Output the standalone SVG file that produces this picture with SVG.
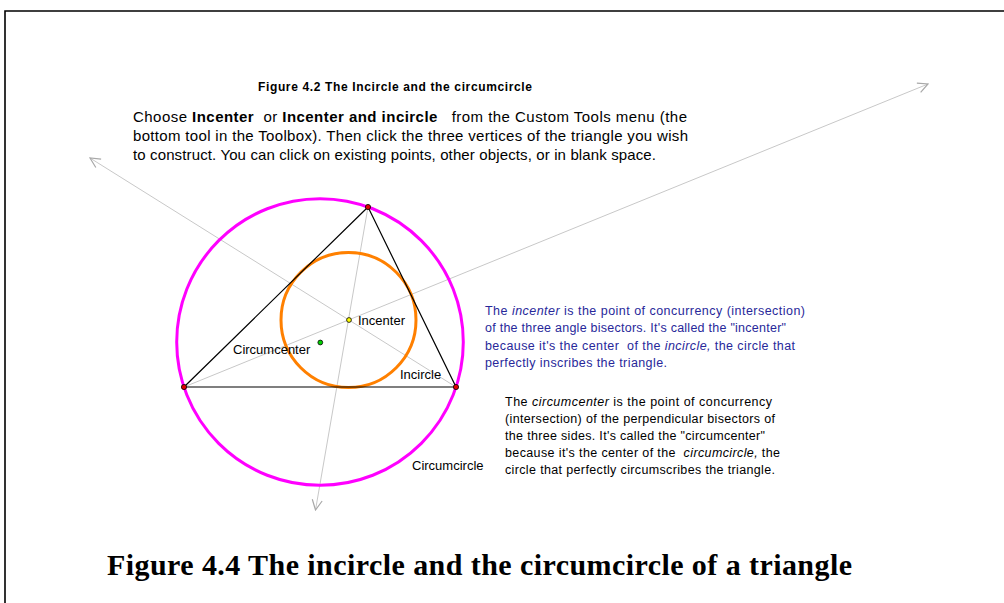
<svg xmlns="http://www.w3.org/2000/svg" width="1004" height="603" viewBox="0 0 1004 603">
<defs>
<marker id="arr" viewBox="0 0 12 12" refX="11" refY="6" markerWidth="12" markerHeight="12" markerUnits="userSpaceOnUse" orient="auto">
<path d="M1,1 L11,6 L1,11" fill="none" stroke="#a8a8a8" stroke-width="1.2"/>
</marker>
</defs>
<style>
.ray{stroke:#c8c8c8;stroke-width:1;fill:none}
.side{stroke:#000;stroke-width:1.2;fill:none}
.t{font-family:"Liberation Sans",Arial,sans-serif;fill:#000}
.lbl{font-family:"Liberation Sans",Arial,sans-serif;font-size:13px;fill:#000}
.blue{font-family:"Liberation Sans",Arial,sans-serif;font-size:12.5px;fill:#28289a}
.blk{font-family:"Liberation Sans",Arial,sans-serif;font-size:12.5px;fill:#000}
.pt{stroke:#000;stroke-width:0.8}
</style>
<rect x="0" y="0" width="1004" height="603" fill="#fff"/>
<path d="M5,603 L5,11 L1004,11" fill="none" stroke="#000" stroke-width="1.6"/>
<g id="connectors">
<line class="ray" x1="456" y1="387" x2="90" y2="158" marker-end="url(#arr)"/>
<line class="ray" x1="184" y1="387" x2="928" y2="84" marker-end="url(#arr)"/>
<line class="ray" x1="368" y1="207" x2="315.5" y2="510" marker-end="url(#arr)"/>
</g>
<g id="circumcircle"><circle cx="320" cy="342" r="143.3" fill="none" stroke="#ff00ff" stroke-width="3"/></g>
<g id="incircle"><circle cx="348.5" cy="320" r="67.5" fill="none" stroke="#ff8000" stroke-width="3"/></g>
<g id="triangle">
<polygon class="side" points="368,207 184,387 456,387"/>
</g>
<g id="vertexA"><circle class="pt" cx="368" cy="207" r="2.6" fill="#e00000"/></g>
<g id="vertexB"><circle class="pt" cx="184" cy="387" r="2.6" fill="#e00000"/></g>
<g id="vertexC"><circle class="pt" cx="456" cy="387" r="2.6" fill="#e00000"/></g>
<g id="incenter"><circle class="pt" cx="349" cy="320" r="2.4" fill="#ffff00"/><text class="lbl" x="358" y="325">Incenter</text></g>
<g id="circumcenter"><circle class="pt" cx="320.3" cy="342.5" r="2.4" fill="#00d000"/><text class="lbl" x="233" y="354">Circumcenter</text></g>
<g id="incircle-label"><text class="lbl" x="400" y="379">Incircle</text></g>
<g id="circumcircle-label"><text class="lbl" x="412" y="470">Circumcircle</text></g>
<g id="title42"><text class="t" x="258" y="91" font-size="12" font-weight="bold" textLength="274">Figure 4.2 The Incircle and the circumcircle</text></g>
<g id="instructions">
<text class="t" font-size="15" x="133" y="122" xml:space="preserve" textLength="554">Choose <tspan font-weight="bold">Incenter</tspan>  or <tspan font-weight="bold">Incenter and incircle</tspan>   from the Custom Tools menu (the</text>
<text class="t" font-size="15" x="133" y="141" textLength="555">bottom tool in the Toolbox). Then click the three vertices of the triangle you wish</text>
<text class="t" font-size="15" x="133" y="160" textLength="523">to construct. You can click on existing points, other objects, or in blank space.</text>
</g>
<g id="incenter-note">
<text class="blue" x="485" y="315" xml:space="preserve" textLength="320">The <tspan font-style="italic">incenter</tspan> is the point of concurrency (intersection)</text>
<text class="blue" x="485" y="332" textLength="301">of the three angle bisectors. It's called the "incenter"</text>
<text class="blue" x="485" y="350" xml:space="preserve" textLength="310">because it's the center  of the <tspan font-style="italic">incircle,</tspan> the circle that</text>
<text class="blue" x="485" y="367" textLength="182">perfectly inscribes the triangle.</text>
</g>
<g id="circumcenter-note">
<text class="blk" x="505" y="406" xml:space="preserve" textLength="267">The <tspan font-style="italic">circumcenter</tspan> is the point of concurrency</text>
<text class="blk" x="505" y="423" textLength="270">(intersection) of the perpendicular bisectors of</text>
<text class="blk" x="505" y="440" textLength="260">the three sides. It's called the "circumcenter"</text>
<text class="blk" x="505" y="457" xml:space="preserve" textLength="275">because it's the center of the  <tspan font-style="italic">circumcircle,</tspan> the</text>
<text class="blk" x="505" y="474" textLength="270">circle that perfectly circumscribes the triangle.</text>
</g>
<g id="caption"><text x="107" y="575" font-family="'Liberation Serif','Times New Roman',serif" font-size="30" font-weight="bold" fill="#000" textLength="745">Figure 4.4 The incircle and the circumcircle of a triangle</text></g>
</svg>
